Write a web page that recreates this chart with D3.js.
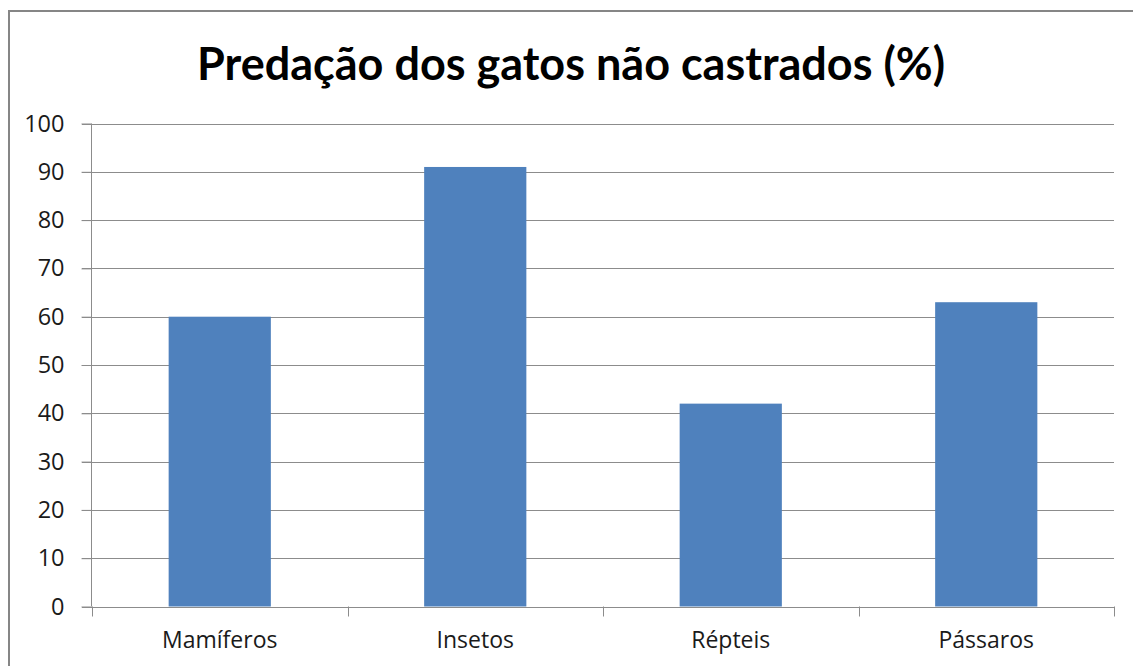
<!DOCTYPE html>
<html><head><meta charset="utf-8">
<script src="https://cdn.jsdelivr.net/npm/d3@7"></script>
<style>
body{margin:0;background:#fff;}
text{font-family:"Open Sans",Lato,sans-serif;}
</style></head>
<body><svg id="c" width="1133" height="666"></svg>
<script>
const categories = ["Mamíferos", "Insetos", "Répteis", "Pássaros"];
const values = [60, 91, 42, 63];
const yTicks = [0,10,20,30,40,50,60,70,80,90,100];
const title = "Predação dos gatos não castrados (%)";

(function(){
const svg = d3.select("#c");
svg.append("rect").attr("x",9).attr("y",11).attr("width",1140).attr("height",700)
  .attr("fill","#fff").attr("stroke","#868686").attr("stroke-width",2);

const pLeft = 92, pRight = 1114, pTop = 123.5, pBottom = 606.5;
const x = d3.scaleBand().domain(categories).range([pLeft, pRight]).paddingInner(0.6).paddingOuter(0.3);
const y = d3.scaleLinear().domain([0,100]).range([pBottom, pTop]);

// gridlines
svg.append("g").selectAll("line").data(yTicks).join("line")
  .attr("x1", pLeft-10).attr("x2", pRight)
  .attr("y1", d=>Math.round(y(d))+0.5).attr("y2", d=>Math.round(y(d))+0.5)
  .attr("stroke","#8c8c8c").attr("stroke-width",1);

// y axis
const ya = svg.append("g").attr("transform",`translate(${pLeft-0.5},0)`)
  .call(d3.axisLeft(y).tickValues(yTicks).tickSize(10).tickPadding(17));
ya.select(".domain").attr("stroke","#8c8c8c").attr("d",`M0,${pTop}V${pBottom}`);
ya.selectAll(".tick line").attr("stroke","#8c8c8c");
ya.selectAll(".tick text").attr("font-size",23.5).attr("fill","#1a1a1a").style("font-family","'Open Sans',Lato,sans-serif");

// bars
svg.append("g").selectAll("rect").data(values).join("rect")
  .attr("x",(d,i)=>x(categories[i])).attr("width",x.bandwidth())
  .attr("y",d=>y(d)).attr("height",d=>pBottom-y(d))
  .attr("fill","#4f81bd");

// x axis
const step = x.step();
const bounds = d3.range(categories.length+1).map(i=>pLeft + i*step);
const xa = svg.append("g");
xa.append("line").attr("x1",pLeft).attr("x2",pRight).attr("y1",Math.round(pBottom)+0.5).attr("y2",Math.round(pBottom)+0.5).attr("stroke","#8c8c8c");
xa.selectAll("line.t").data(bounds).join("line").attr("class","t")
  .attr("x1",d=>Math.round(d)+0.5).attr("x2",d=>Math.round(d)+0.5)
  .attr("y1",pBottom).attr("y2",pBottom+10).attr("stroke","#8c8c8c");
xa.selectAll("text").data(categories).join("text")
  .attr("x",d=>x(d)+x.bandwidth()/2).attr("y",648)
  .attr("text-anchor","middle").attr("font-size",23).attr("fill","#1a1a1a").text(d=>d);

// title
svg.append("text").attr("x",571).attr("y",80).attr("text-anchor","middle")
  .style("font-family","Lato,'Open Sans',sans-serif")
  .attr("font-size",45).attr("font-weight","bold").attr("fill","#000").text(title);
})();
</script></body></html>
